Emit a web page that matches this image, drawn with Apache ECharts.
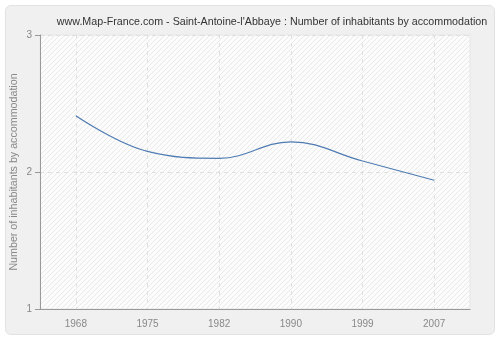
<!DOCTYPE html>
<html>
<head>
<meta charset="UTF-8">
<script src="https://cdn.jsdelivr.net/npm/echarts@6/dist/echarts.min.js"></script>
<style>
  body { margin: 0; background: #ffffff; }
  #frame {
    position: absolute; left: 5px; top: 5px; width: 488px; height: 328px;
    background: #f0f0f0; border: 1px solid #e2e2e2; border-radius: 6px;
  }
  #chart { position: absolute; left: 0; top: 0; width: 500px; height: 340px; }
</style>
</head>
<body>
<div id="frame"></div>
<div id="chart"></div>
<script>
// data
const years = ['1968', '1975', '1982', '1990', '1999', '2007'];
const inhabitantsPerHome = [2.41, 2.15, 2.10, 2.22, 2.08, 1.94];
const yTicks = [1, 2, 3];

const titleText = "www.Map-France.com - Saint-Antoine-l'Abbaye : Number of inhabitants by accommodation";
const yName = 'Number of inhabitants by accommodation';

// hatched plot background
const hatch = document.createElement('canvas');
hatch.width = 5;
hatch.height = 5;
const hctx = hatch.getContext('2d');
hctx.fillStyle = '#fcfcfc';
hctx.fillRect(0, 0, 5, 5);
hctx.strokeStyle = '#e9e9e9';
hctx.lineWidth = 1;
hctx.beginPath();
hctx.moveTo(0, 5);
hctx.lineTo(5, 0);
hctx.moveTo(-1, 1);
hctx.lineTo(1, -1);
hctx.moveTo(4, 6);
hctx.lineTo(6, 4);
hctx.stroke();

const chart = echarts.init(document.getElementById('chart'));

chart.setOption({
    animation: false,
    backgroundColor: 'transparent',
    title: {
        text: titleText,
        left: 267,
        textAlign: 'center',
        top: 12,
        textStyle: {
            fontFamily: 'Liberation Sans',
            fontSize: 10.7,
            fontWeight: 'normal',
            color: '#333333'
        }
    },
    grid: {
        left: 40,
        right: 30,
        top: 35,
        bottom: 31,
        outerBoundsMode: 'none',
        containLabel: false,
        show: true,
        borderWidth: 1,
        borderColor: '#e6e6e6',
        backgroundColor: { image: hatch, repeat: 'repeat' }
    },
    xAxis: {
        type: 'category',
        data: years,
        boundaryGap: true,
        axisLine: { lineStyle: { color: '#999999' } },
        axisTick: { alignWithLabel: true, length: 5, lineStyle: { color: '#999999' } },
        axisLabel: {
            color: '#888888',
            fontFamily: 'Liberation Sans',
            fontSize: 10,
            margin: 10
        },
        splitLine: {
            show: true,
            alignWithLabel: true,
            lineStyle: { color: '#e0e0e0', type: [4, 4] }
        }
    },
    yAxis: {
        type: 'value',
        min: 1,
        max: 3,
        interval: 1,
        name: yName,
        nameLocation: 'middle',
        nameGap: 20,
        nameMoveOverlap: false,
        nameTextStyle: {
            color: '#888888',
            fontFamily: 'Liberation Sans',
            fontSize: 10.7
        },
        axisLine: { show: true, lineStyle: { color: '#999999' } },
        axisTick: { show: true, length: 5, lineStyle: { color: '#999999' } },
        axisLabel: {
            color: '#888888',
            fontFamily: 'Liberation Sans',
            fontSize: 10,
            margin: 8,
            formatter: v => (yTicks.indexOf(v) >= 0 ? String(v) : '')
        },
        splitLine: {
            show: true,
            lineStyle: { color: '#e0e0e0', type: [4, 4] }
        }
    },
    series: [{
        type: 'line',
        data: inhabitantsPerHome,
        smooth: 0.4,
        symbol: 'none',
        lineStyle: { color: '#4f7cb3', width: 1.2 }
    }]
});
</script>
</body>
</html>
